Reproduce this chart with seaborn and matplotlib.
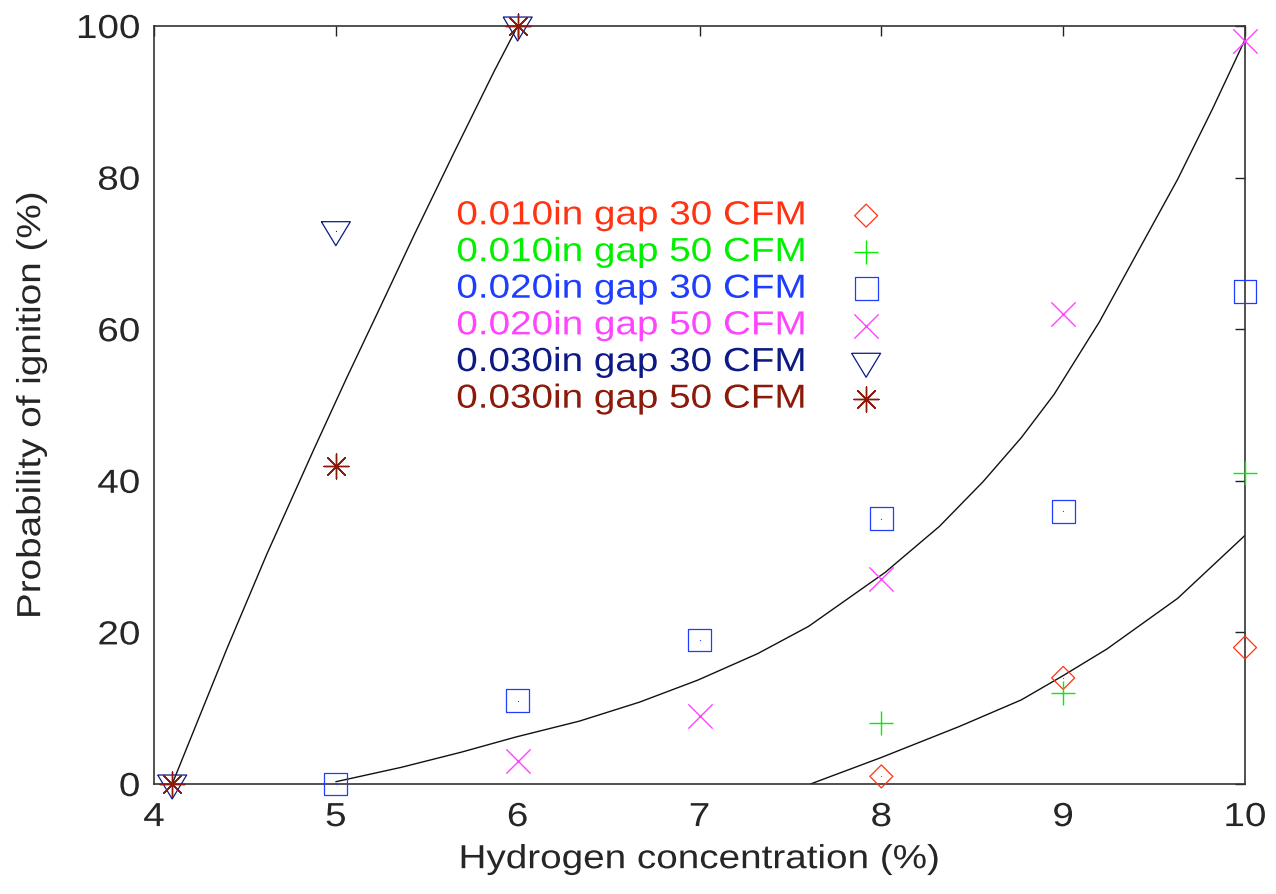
import matplotlib
matplotlib.use("Agg")
import matplotlib.pyplot as plt
import seaborn as sns
from matplotlib.patheffects import AbstractPathEffect
from matplotlib.transforms import Affine2D

# measured points
x_010_30 = [8, 9, 10]
y_010_30 = [1, 14, 18]
x_010_50 = [8, 9, 10]
y_010_50 = [8, 12, 41]
x_020_30 = [5, 6, 7, 8, 9, 10]
y_020_30 = [0, 11, 19, 35, 36, 65]
x_020_50 = [6, 7, 8, 9, 10]
y_020_50 = [3, 9, 27, 62, 98]
x_030_30 = [4.1, 5, 6]
y_030_30 = [0, 73, 100]
x_030_50 = [4.1, 5, 6]
y_030_50 = [0, 42, 100]

# fitted curves
fit_a_x = [4.10, 4.40, 4.62, 4.88, 5.06, 5.23, 5.43, 5.65, 5.87, 6.00]
fit_a_y = [0, 17.8, 30.3, 44.2, 53.6, 62.2, 72.4, 83.3, 94.0, 100.0]
fit_b_x = [5.00, 5.36, 5.69, 5.99, 6.34, 6.67, 6.99, 7.32, 7.60, 8.02,
           8.32, 8.56, 8.77, 8.95, 9.20, 9.41, 9.63, 9.82, 10.0]
fit_b_y = [0.3, 2.2, 4.2, 6.2, 8.3, 10.8, 13.7, 17.2, 20.8, 27.9,
           34.0, 39.9, 45.7, 51.4, 61.0, 70.2, 79.8, 89.0, 98.2]
fit_c_x = [7.61, 8.00, 8.43, 8.77, 9.00, 9.24, 9.63, 10.0]
fit_c_y = [0, 3.5, 7.6, 11.1, 14.3, 17.8, 24.5, 32.8]

labels = [
    "0.010in gap 30 CFM",
    "0.010in gap 50 CFM",
    "0.020in gap 30 CFM",
    "0.020in gap 50 CFM",
    "0.030in gap 30 CFM",
    "0.030in gap 50 CFM",
]
xticks = [4, 5, 6, 7, 8, 9, 10]
yticks = [0, 20, 40, 60, 80, 100]

FS = 24
SX = 1.16


class Widen(AbstractPathEffect):
    # gnuplot's font is much wider than Arial, stretch glyphs sideways
    def __init__(self, sx=SX, anchor=0.5):
        super().__init__()
        self.sx = sx
        self.anchor = anchor

    def draw_path(self, renderer, gc, tpath, affine, rgbFace=None):
        x0, _, x1, _ = tpath.get_extents().extents
        a = x0 + (x1 - x0) * self.anchor
        st = Affine2D().translate(-a, 0).scale(self.sx, 1).translate(a, 0)
        renderer.draw_path(gc, tpath, st + affine, rgbFace)


sns.set_style("white")
plt.rcParams["font.family"] = ["Liberation Sans", "DejaVu Sans"]
plt.rcParams["font.size"] = FS

fig = plt.figure(figsize=(12.76, 8.95), dpi=100)
ax = fig.add_axes([0.1207, 0.1229, 0.8550, 0.8469])

# gnuplot's down triangle: wider than tall, point sits a third from the top
tri = [(-0.967, 0.6), (0.967, 0.6), (0, -1.0), (-0.967, 0.6)]
series = [
    (x_010_30, y_010_30, "D", 137, "#ff3311", True),
    (x_010_50, y_010_50, "+", 306, "#00f000", False),
    (x_020_30, y_020_30, "s", 273, "#1f3dff", True),
    (x_020_50, y_020_50, "x", 306, "#ff44ff", False),
    (x_030_30, y_030_30, tri, 466, "#0d1a85", True),
    (x_030_50, y_030_50, (8, 2, 0), 324, "#8b1a0a", False),
]

for (xs, ys, m, s, c, filled), lab in zip(series, labels):
    if filled:
        sns.scatterplot(x=xs, y=ys, marker=m, s=s, facecolor="none",
                        edgecolor=c, linewidth=0.9, label=lab, ax=ax,
                        clip_on=False, zorder=3)
        sns.scatterplot(x=xs, y=ys, marker=".", s=3, color=c, edgecolor=c,
                        linewidth=0, ax=ax, clip_on=False, zorder=3)
    else:
        sns.scatterplot(x=xs, y=ys, marker=m, s=s, color=c, linewidth=1.0,
                        label=lab, ax=ax, clip_on=False, zorder=3)

for fx, fy in [(fit_a_x, fit_a_y), (fit_b_x, fit_b_y), (fit_c_x, fit_c_y)]:
    sns.lineplot(x=fx, y=fy, color="#111111", lw=1.0, sort=False,
                 estimator=None, ax=ax, zorder=2)

ax.set_xlim(4, 10)
ax.set_ylim(0, 100)
ax.set_xticks(xticks)
ax.set_yticks(yticks)
ax.tick_params(direction="in", length=7, width=1.0, color="#222222",
               top=True, right=True, labelsize=FS)
ax.tick_params(axis="x", pad=13)
ax.tick_params(axis="y", pad=10)
for sp in ax.spines.values():
    sp.set_color("#333333")
    sp.set_linewidth(1.2)

ax.set_xlabel("Hydrogen concentration (%)", fontsize=FS, labelpad=8)
ax.set_ylabel("Probability of ignition (%)", fontsize=FS, labelpad=27)

handles, _ = ax.get_legend_handles_labels()
colors = [s[4] for s in series]
leg = ax.legend(handles, labels, loc="upper right",
                bbox_to_anchor=(0.668, 0.770), frameon=False,
                markerfirst=False, handlelength=1.0, handletextpad=1.3,
                labelspacing=0.17, borderpad=0, borderaxespad=0,
                labelcolor=colors, fontsize=FS, scatterpoints=1)

fig.canvas.draw()
for t in ax.get_xticklabels():
    t.set_path_effects([Widen(SX, 0.5)])
for t in ax.get_yticklabels():
    t.set_path_effects([Widen(SX, 1.0)])
ax.xaxis.label.set_path_effects([Widen(SX, 0.5)])
ax.yaxis.label.set_path_effects([Widen(SX, 0.5)])
for t in leg.get_texts():
    t.set_path_effects([Widen(SX, 1.0)])

fig.savefig("out.png", dpi=100)
